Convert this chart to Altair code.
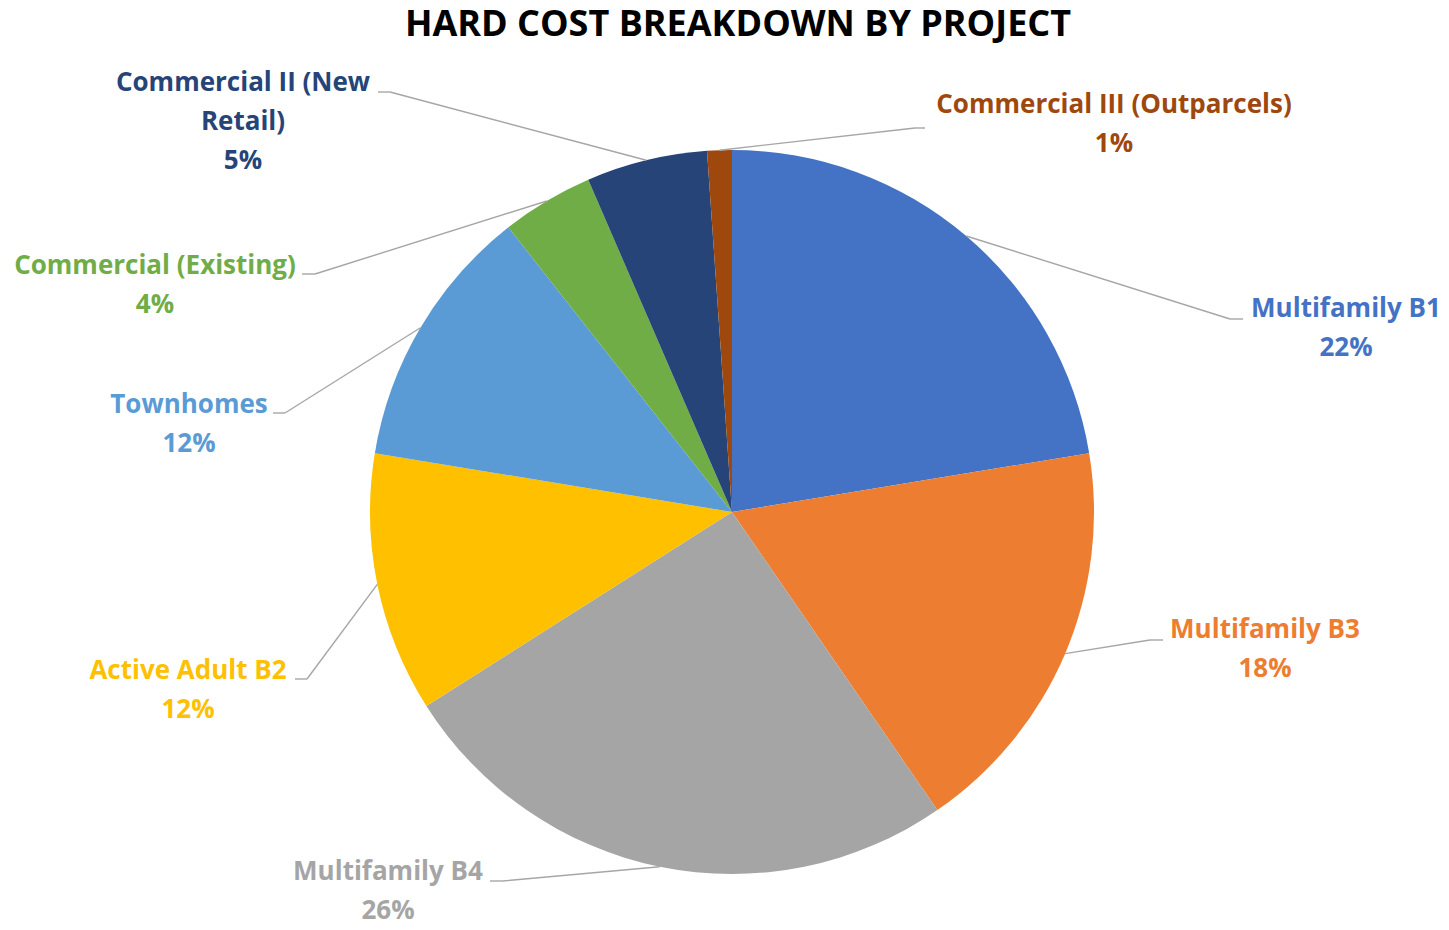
import altair as alt
import pandas as pd

# ---- data ----
title_text = "HARD COST BREAKDOWN BY PROJECT"
categories = [
    "Multifamily B1", "Multifamily B3", "Multifamily B4", "Active Adult B2",
    "Townhomes", "Commercial (Existing)", "Commercial II (New Retail)",
    "Commercial III (Outparcels)",
]
values = [22.4, 18.0, 25.6, 11.6, 11.8, 4.1, 5.4, 1.1]
label_text = [
    "Multifamily B1", "Multifamily B3", "Multifamily B4", "Active Adult B2",
    "Townhomes", "Commercial (Existing)", "Commercial II (New\nRetail)",
    "Commercial III (Outparcels)",
]

# ---- styling / label layout (pixels relative to pie centre) ----
colors = ["#4472C4", "#ED7D31", "#A5A5A5", "#FFC000", "#5B9BD5", "#70AD47",
          "#264478", "#9E480E"]
R = 362
FONT = "Open Sans"
layout = {
    "Multifamily B1": dict(tx=614, ty=-195, ex=498, ey=-193, hx=511),
    "Multifamily B3": dict(tx=533, ty=126, ex=418, ey=128, hx=431),
    "Multifamily B4": dict(tx=-344, ty=368, ex=-229, ey=369, hx=-242),
    "Active Adult B2": dict(tx=-544, ty=167, ex=-425, ey=167, hx=-437),
    "Townhomes": dict(tx=-543, ty=-99, ex=-447, ey=-99, hx=-459),
    "Commercial (Existing)": dict(tx=-577, ty=-238, ex=-417, ey=-238, hx=-430),
    "Commercial II (New Retail)": dict(tx=-489, ty=-421, ex=-342, ey=-420, hx=-354),
    "Commercial III (Outparcels)": dict(tx=382, ty=-399, ex=183, ey=-384, hx=193),
}
title_pos = dict(x=6, y=-476)

df = pd.DataFrame({"category": categories, "value": values, "label": label_text})
df["idx"] = range(len(df))
for k in ["tx", "ty", "ex", "ey", "hx"]:
    df[k] = [layout[c][k] for c in categories]

W, H = 1418, 800
color = alt.Color("category:N", scale=alt.Scale(domain=categories, range=colors), legend=None)
xs = alt.Scale(domain=[-W / 2, W / 2], nice=False, zero=False)
ys = alt.Scale(domain=[-H / 2, H / 2], nice=False, zero=False, reverse=True)

base = alt.Chart(df).transform_joinaggregate(
    total="sum(value)"
).transform_window(
    cum="sum(value)", sort=[alt.SortField("idx")], frame=[None, 0]
).transform_calculate(
    sx=f"{R} * sin((datum.cum - datum.value/2) / datum.total * 2 * PI)",
    sy=f"-{R} * cos((datum.cum - datum.value/2) / datum.total * 2 * PI)",
    txt="datum.label + '\\n' + format(datum.value / datum.total, '.0%')",
)

pie = alt.Chart(df).mark_arc(outerRadius=R).encode(
    theta=alt.Theta("value:Q", stack=True),
    color=color,
    order=alt.Order("idx:Q"),
)

lead1 = base.mark_rule(color="#A6A6A6", strokeWidth=1.4).encode(
    x=alt.X("sx:Q", scale=xs, axis=None),
    y=alt.Y("sy:Q", scale=ys, axis=None),
    x2="ex:Q",
    y2="ey:Q",
)
lead2 = base.mark_rule(color="#A6A6A6", strokeWidth=1.4).encode(
    x=alt.X("ex:Q", scale=xs, axis=None),
    y=alt.Y("ey:Q", scale=ys, axis=None),
    x2="hx:Q",
    y2="ey:Q",
)
labels = base.mark_text(
    lineBreak="\n", align="center", baseline="alphabetic",
    font=FONT, fontWeight="bold", fontSize=26, lineHeight=39,
).encode(
    x=alt.X("tx:Q", scale=xs, axis=None),
    y=alt.Y("ty:Q", scale=ys, axis=None),
    text="txt:N",
    color=color,
)

title = alt.Chart(pd.DataFrame({"t": [title_text]})).mark_text(
    align="center", baseline="alphabetic",
    font=FONT, fontWeight="bold", fontSize=36, color="black",
).encode(
    x=alt.X(datum=title_pos["x"], scale=xs, axis=None),
    y=alt.Y(datum=title_pos["y"], scale=ys, axis=None),
    text="t:N",
)

chart = alt.layer(pie, lead1, lead2, labels, title).properties(
    width=W,
    height=H,
    padding={"left": 15, "top": 104, "right": 0, "bottom": 10},
    autosize=alt.AutoSizeParams(type="none"),
).configure_view(strokeWidth=0)

chart.save("out.html", embed_options={"renderer": "svg", "actions": False})
